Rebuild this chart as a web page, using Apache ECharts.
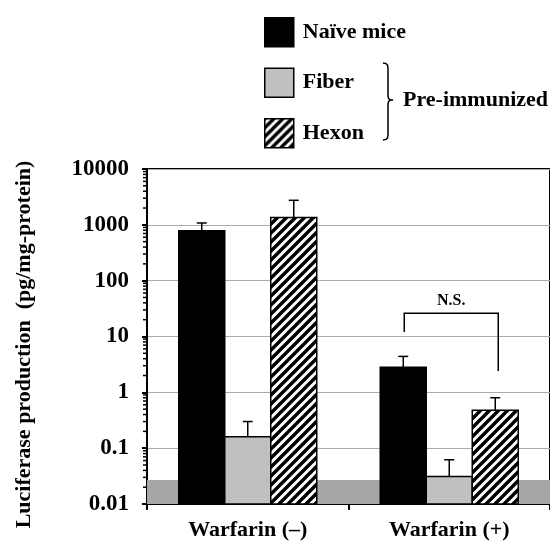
<!DOCTYPE html>
<html>
<head>
<meta charset="utf-8">
<script src="https://cdn.jsdelivr.net/npm/echarts@6/dist/echarts.min.js"></script>
<style>
  html, body { margin: 0; padding: 0; background: #fff; }
  #main { width: 550px; height: 544px; }
</style>
</head>
<body>
<div id="main"></div>
<script>
// 数据
var categories = ['Warfarin (\u2013)', 'Warfarin (+)'];
var seriesNames = ['Na\u00efve mice', 'Fiber', 'Hexon'];
var naive = [780, 2.8];
var fiber = [0.16, 0.031];
var hexon = [1350, 0.48];
var naiveErr = [1080, 4.4];
var fiberErr = [0.30, 0.062];
var hexonErr = [2750, 0.80];
var yTickLabels = ['0.01', '0.1', '1', '10', '100', '1000', '10000'];
var detectLimit = 0.027;
// N.S. 括号: 左端, 顶部, 右端
var nsLevels = [12, 26, 2.4];

var FONT = '"Liberation Serif", "Times New Roman", serif';
var BAR_W = 46;

// 斜线填充
function stripePattern() {
	var s = 9, c = document.createElement('canvas');
	c.width = s; c.height = s;
	var ctx = c.getContext('2d');
	ctx.fillStyle = '#fff';
	ctx.fillRect(0, 0, s, s);
	ctx.strokeStyle = '#000';
	ctx.lineWidth = 3.4;
	ctx.beginPath();
	ctx.moveTo(-2, 2); ctx.lineTo(2, -2);
	ctx.moveTo(0, s); ctx.lineTo(s, 0);
	ctx.moveTo(s - 2, s + 2); ctx.lineTo(s + 2, s - 2);
	ctx.stroke();
	return c;
}

// 误差线数据 [类别, 柱顶, 误差顶, 位置]
var errData = [];
[[naive, naiveErr], [fiber, fiberErr], [hexon, hexonErr]].forEach(function(p, slot) {
	p[0].forEach(function(v, i) {
		errData.push([i, v, p[1][i], slot]);
	});
});

// 对数轴次刻度 (2..9)
var minorTicks = [];
for (var k = -2; k < 4; k++) {
	for (var m = 2; m < 10; m++) minorTicks.push([0, m * Math.pow(10, k)]);
}

// 柱子用custom画, 从轴底开始 (log轴的bar默认从1开始)
function barSeries(name, values, slot, fill) {
	return {
		name: name, type: 'custom', z: 2,
		encode: { x: 0, y: 1 },
		itemStyle: { color: fill, borderColor: '#000', borderWidth: 1.5 },
		data: values.map(function(v, i) { return [i, v]; }),
		renderItem: function(params, api) {
			var top = api.coord([api.value(0), api.value(1)]);
			var cs = params.coordSys;
			var x = top[0] + (slot - 1) * BAR_W - BAR_W / 2;
			return {
				type: 'rect',
				shape: { x: x, y: top[1], width: BAR_W, height: cs.y + cs.height - top[1] },
				style: { fill: fill, stroke: '#000', lineWidth: 1.5 }
			};
		}
	};
}

var chart = echarts.init(document.getElementById('main'));

var option = {
	backgroundColor: '#fff',
	animation: false,
	grid: {
		left: 147, top: 169, right: -3, bottom: 40,
		show: true, borderColor: '#000', borderWidth: 2, backgroundColor: 'transparent'
	},
	legend: {
		orient: 'vertical',
		left: 259, top: 12,
		itemWidth: 29, itemHeight: 29, itemGap: 20,
		icon: 'rect',
		selectedMode: false,
		data: seriesNames,
		itemStyle: { borderColor: '#000', borderWidth: 1.5 },
		textStyle: { fontFamily: FONT, fontWeight: 'bold', fontSize: 22, color: '#000', padding: [0, 0, 0, 4] }
	},
	xAxis: {
		type: 'category',
		data: categories,
		axisLine: { lineStyle: { color: '#000', width: 2 } },
		axisTick: { show: true, length: 6, lineStyle: { color: '#000', width: 2 } },
		axisLabel: { fontFamily: FONT, fontWeight: 'bold', fontSize: 22, color: '#000', margin: 15 }
	},
	yAxis: {
		type: 'log',
		logBase: 10,
		min: 0.01, max: 10000,
		name: 'Luciferase production  (pg/mg-protein)',
		nameLocation: 'middle',
		nameRotate: 90,
		nameGap: 112,
		nameTextStyle: { fontFamily: FONT, fontWeight: 'bold', fontSize: 22, color: '#000', padding: [0, 16, 0, 0] },
		axisLine: { show: true, lineStyle: { color: '#000', width: 2 } },
		axisTick: { show: true, length: 5, lineStyle: { color: '#000', width: 2 } },
		axisLabel: {
			fontFamily: FONT, fontWeight: 'bold', fontSize: 23, color: '#000', margin: 18,
			formatter: function(v) { return yTickLabels[Math.round(Math.log10(v)) + 2]; }
		},
		splitLine: { show: true, lineStyle: { color: '#aaa', width: 1 } }
	},
	series: [
		{
			// 检出限灰带
			type: 'line', data: [], z: 1, silent: true,
			markArea: {
				silent: true,
				itemStyle: { color: '#a6a6a6' },
				data: [[{ yAxis: 0.01 }, { yAxis: detectLimit }]]
			}
		},
		barSeries(seriesNames[0], naive, 0, '#000'),
		barSeries(seriesNames[1], fiber, 1, '#c0c0c0'),
		barSeries(seriesNames[2], hexon, 2, { image: stripePattern(), repeat: 'repeat' }),
		{
			// 误差线
			type: 'custom', z: 3, silent: true, clip: false,
			encode: { x: 0, y: [1, 2] },
			data: errData,
			renderItem: function(params, api) {
				var cat = api.value(0), slot = api.value(3);
				var p0 = api.coord([cat, api.value(1)]);
				var p1 = api.coord([cat, api.value(2)]);
				var x = p0[0] + (slot - 1) * BAR_W;
				var st = { stroke: '#000', lineWidth: 1.5 };
				return {
					type: 'group', children: [
						{ type: 'line', shape: { x1: x, y1: p0[1], x2: x, y2: p1[1] }, style: st },
						{ type: 'line', shape: { x1: x - 5, y1: p1[1], x2: x + 5, y2: p1[1] }, style: st }
					]
				};
			}
		},
		{
			// N.S. 括号
			type: 'custom', z: 3, silent: true, clip: false,
			encode: { x: 0, y: 1 },
			data: [[1].concat(nsLevels)],
			renderItem: function(params, api) {
				var cat = api.value(0);
				var l = api.coord([cat, api.value(1)]);
				var t = api.coord([cat, api.value(2)]);
				var r = api.coord([cat, api.value(3)]);
				var xl = l[0] - BAR_W + 1, xr = l[0] + BAR_W + 3;
				return {
					type: 'group', children: [
						{
							type: 'polyline',
							shape: { points: [[xl, l[1]], [xl, t[1]], [xr, t[1]], [xr, r[1]]] },
							style: { stroke: '#000', lineWidth: 1.5, fill: null }
						},
						{
							type: 'text',
							style: {
								text: 'N.S.', x: (xl + xr) / 2, y: t[1] - 4,
								align: 'center', verticalAlign: 'bottom',
								font: 'bold 16px ' + FONT, fill: '#000'
							}
						}
					]
				};
			}
		},
		{
			// y轴次刻度
			type: 'custom', z: 3, silent: true, clip: false,
			encode: { x: 0, y: 1 },
			data: minorTicks,
			renderItem: function(params, api) {
				var p = api.coord([0, api.value(1)]);
				var x0 = params.coordSys.x;
				return {
					type: 'line',
					shape: { x1: x0 - 4, y1: p[1], x2: x0, y2: p[1] },
					style: { stroke: '#000', lineWidth: 1.5 }
				};
			}
		}
	],
	graphic: [
		{
			// 右花括号
			type: 'polyline',
			shape: { points: [[383, 63], [386, 63.6], [387.5, 65.2], [388, 68], [388, 96], [388.6, 98.6], [390, 99.7], [393, 100],
				[390, 100.3], [388.6, 101.4], [388, 104], [388, 135], [387.5, 137.8], [386, 139.4], [383, 140]] },
			style: { stroke: '#000', lineWidth: 1.5, fill: null }
		},
		{
			type: 'text', left: 403, top: 89,
			style: { text: 'Pre-immunized', font: 'bold 22px ' + FONT, fill: '#000' }
		}
	]
};

chart.setOption(option);
</script>
</body>
</html>
